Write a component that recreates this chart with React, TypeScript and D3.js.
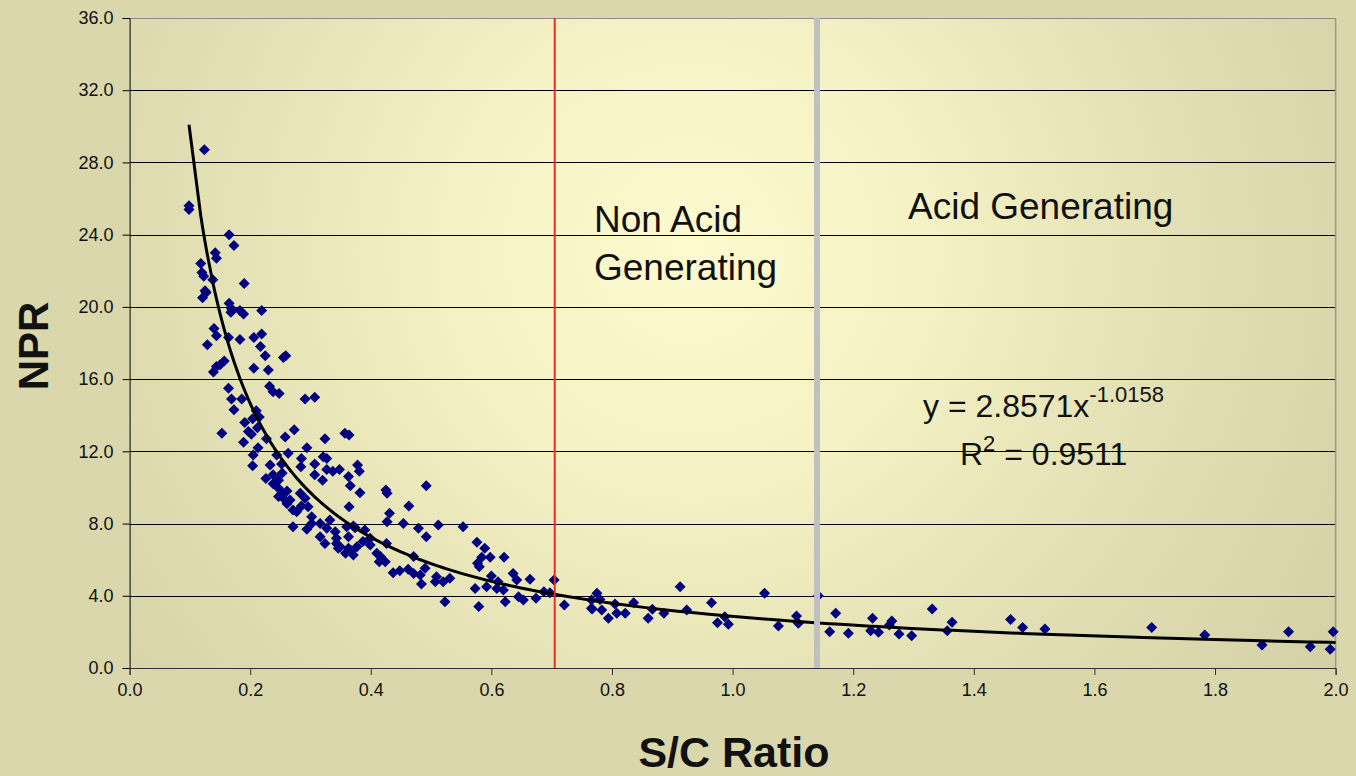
import React, { useEffect, useRef } from "react";
import * as d3 from "d3";

const width = 1356;
const height = 776;

// axis ticks
const xTicks = [0, 0.2, 0.4, 0.6, 0.8, 1.0, 1.2, 1.4, 1.6, 1.8, 2.0];
const yTicks = [0, 4, 8, 12, 16, 20, 24, 28, 32, 36];

// S/C ratio vs NPR
const samples: [number, number][] = [
  [0.124, 28.7], [0.0985, 25.4], [0.0985, 25.6], [0.165, 24.0], [0.173, 23.4],
  [0.142, 23.0], [0.144, 22.7], [0.118, 22.4], [0.120, 21.9], [0.123, 21.7],
  [0.138, 21.5], [0.190, 21.3], [0.125, 20.9], [0.127, 20.8], [0.121, 20.5],
  [0.165, 20.2], [0.169, 19.9], [0.168, 19.7], [0.183, 19.8], [0.189, 19.6],
  [0.219, 19.8], [0.140, 18.8], [0.144, 18.4], [0.129, 17.9], [0.164, 18.3],
  [0.183, 18.2], [0.206, 18.3], [0.219, 18.5], [0.217, 17.8], [0.225, 17.3],
  [0.255, 17.2], [0.259, 17.3], [0.139, 16.4], [0.144, 16.7], [0.150, 16.8],
  [0.157, 17.0], [0.206, 16.6], [0.230, 16.5], [0.164, 15.5], [0.232, 15.6],
  [0.238, 15.3], [0.248, 15.2], [0.291, 14.9], [0.307, 15.0], [0.169, 14.9],
  [0.186, 14.9], [0.173, 14.3], [0.210, 14.25], [0.191, 13.6], [0.204, 13.8],
  [0.215, 13.9], [0.153, 13.0], [0.197, 13.1], [0.202, 12.95], [0.212, 13.3],
  [0.258, 12.8], [0.273, 13.2], [0.324, 12.7], [0.189, 12.5], [0.294, 12.2],
  [0.227, 12.7], [0.205, 11.8], [0.213, 12.2], [0.244, 11.8], [0.263, 11.9],
  [0.285, 11.6], [0.321, 11.7], [0.357, 13.0], [0.364, 12.9], [0.204, 11.2],
  [0.233, 11.25], [0.252, 11.3], [0.284, 11.15], [0.307, 11.3], [0.327, 11.6],
  [0.307, 10.7], [0.320, 10.4], [0.327, 11.0], [0.337, 10.9], [0.348, 11.0],
  [0.378, 11.25], [0.381, 10.9], [0.363, 10.6], [0.366, 10.1], [0.382, 9.7],
  [0.425, 9.86], [0.427, 9.68], [0.492, 10.1], [0.226, 10.5], [0.238, 10.2],
  [0.247, 10.4], [0.247, 9.95], [0.252, 9.67], [0.261, 9.8], [0.247, 9.5],
  [0.255, 9.4], [0.266, 9.3], [0.283, 9.68], [0.291, 9.4], [0.296, 8.93],
  [0.285, 8.97], [0.271, 8.75], [0.277, 8.66], [0.302, 8.38], [0.271, 7.83],
  [0.294, 7.68], [0.302, 8.0], [0.316, 8.0], [0.332, 8.2], [0.327, 7.74],
  [0.341, 7.55], [0.343, 7.18], [0.324, 6.9], [0.358, 6.35], [0.363, 6.63],
  [0.371, 6.26], [0.363, 7.27], [0.371, 7.86], [0.390, 7.64], [0.387, 7.0],
  [0.399, 7.18], [0.410, 6.35], [0.414, 5.89], [0.424, 5.89], [0.426, 6.9],
  [0.427, 8.1], [0.431, 8.57], [0.454, 8.0], [0.463, 8.97], [0.479, 7.74],
  [0.492, 7.27], [0.512, 7.92], [0.553, 7.83], [0.576, 6.96], [0.577, 5.8],
  [0.437, 5.28], [0.448, 5.39], [0.462, 5.47], [0.471, 5.24], [0.482, 5.15],
  [0.490, 5.52], [0.484, 4.65], [0.509, 5.06], [0.520, 4.78], [0.531, 4.97],
  [0.523, 3.67], [0.573, 4.41], [0.579, 3.40], [0.349, 6.72], [0.399, 6.81],
  [0.416, 6.17], [0.316, 7.27], [0.364, 8.93], [0.360, 7.83], [0.374, 7.77],
  [0.343, 6.9], [0.377, 6.72], [0.471, 6.17], [0.238, 10.7], [0.253, 10.8],
  [0.346, 6.63], [0.368, 6.5], [0.261, 9.1], [0.589, 6.63], [0.584, 6.13],
  [0.580, 5.61], [0.598, 6.13], [0.621, 6.13], [0.507, 4.78], [0.592, 4.5],
  [0.600, 5.09], [0.611, 4.78], [0.609, 4.41], [0.620, 4.32], [0.636, 5.24],
  [0.642, 4.87], [0.623, 3.67], [0.645, 3.95], [0.653, 3.77], [0.664, 4.91],
  [0.674, 3.86], [0.687, 4.23], [0.697, 4.17], [0.704, 4.87], [0.721, 3.49],
  [0.766, 3.77], [0.775, 4.14], [0.766, 3.31], [0.780, 3.8], [0.767, 3.27],
  [0.783, 3.21], [0.794, 2.75], [0.805, 3.54], [0.808, 3.03], [0.822, 3.03],
  [0.836, 3.62], [0.860, 2.75], [0.867, 3.25], [0.886, 3.03], [0.913, 4.5],
  [0.924, 3.21], [0.965, 3.62], [0.975, 2.51], [0.987, 2.84], [0.993, 2.42],
  [1.053, 4.14], [1.076, 2.33], [1.106, 2.88], [1.109, 2.48], [1.142, 4.0],
  [1.161, 2.01], [1.171, 3.03], [1.192, 1.92], [1.229, 2.07], [1.232, 2.75],
  [1.242, 1.98], [1.260, 2.38], [1.264, 2.6], [1.276, 1.88], [1.297, 1.79],
  [1.331, 3.27], [1.356, 2.07], [1.364, 2.53], [1.461, 2.69], [1.481, 2.25],
  [1.518, 2.16], [1.695, 2.25], [1.783, 1.83], [1.878, 1.27], [1.922, 2.01],
  [1.958, 1.18], [1.991, 1.04], [1.996, 2.01],
];

// power trendline shown on the chart
const trendA = 2.8571;
const trendB = -1.0158;
const rSquared = 0.9511;

// zone boundaries (S/C ratio)
const nonAcidLimit = 0.705;
const acidLimit = 1.14;

const font = "'Liberation Sans', Arial, sans-serif";

export default function App() {
  const ref = useRef<SVGSVGElement>(null);

  useEffect(() => {
    document.body.style.margin = "0";
    const svg = d3.select(ref.current);
    svg.selectAll("*").remove();

    const x = d3.scaleLinear().domain([0, 2]).range([129.6, 1335.6]);
    const y = d3.scaleLinear().domain([0, 36]).range([668, 18]);

    const grad = svg.append("defs")
      .append("radialGradient")
      .attr("id", "plotBg")
      .attr("gradientUnits", "userSpaceOnUse")
      .attr("cx", 690).attr("cy", 250).attr("r", 760);
    const stops: [number, string][] = [[0, "#FCFACE"], [0.3, "#F5F3C5"], [0.7, "#DFDDB1"], [1, "#D3D1A5"]];
    grad.selectAll("stop").data(stops).join("stop")
      .attr("offset", d => d[0])
      .attr("stop-color", d => d[1]);

    svg.append("rect").attr("width", width).attr("height", height).attr("fill", "#D9D7AB");
    svg.append("rect")
      .attr("x", x(0)).attr("y", y(36))
      .attr("width", x(2) - x(0)).attr("height", y(0) - y(36))
      .attr("fill", "url(#plotBg)");

    // horizontal gridlines
    svg.append("g").selectAll("line")
      .data(yTicks.filter(d => d > 0))
      .join("line")
      .attr("x1", x(0)).attr("x2", x(2))
      .attr("y1", d => Math.round(y(d)) + 0.5).attr("y2", d => Math.round(y(d)) + 0.5)
      .attr("stroke", d => d === 36 ? "#8c8c86" : "#000")
      .attr("stroke-width", 1);

    // right border
    svg.append("line")
      .attr("x1", x(2)).attr("x2", x(2)).attr("y1", y(36)).attr("y2", y(0))
      .attr("stroke", "#999").attr("stroke-width", 1.5);

    // axes
    const yAxis = d3.axisLeft(y).tickValues(yTicks).tickSize(7).tickPadding(9)
      .tickFormat(d => d3.format(".1f")(d as number));
    svg.append("g")
      .attr("transform", `translate(${x(0)},0)`)
      .call(yAxis)
      .call(g => g.selectAll(".domain, .tick line").attr("stroke", "#000"))
      .call(g => g.selectAll("text").attr("font-family", font).attr("font-size", 18).attr("fill", "#111"));

    const xAxis = d3.axisBottom(x).tickValues(xTicks).tickSize(7).tickPadding(8)
      .tickFormat(d => d3.format(".1f")(d as number));
    svg.append("g")
      .attr("transform", `translate(0,${y(0)})`)
      .call(xAxis)
      .call(g => g.selectAll(".domain, .tick line").attr("stroke", "#333"))
      .call(g => g.selectAll("text").attr("font-family", font).attr("font-size", 18).attr("fill", "#111"));

    // points
    svg.append("g").selectAll("path")
      .data(samples)
      .join("path")
      .attr("d", "M0,-5.5L5.5,0L0,5.5L-5.5,0Z")
      .attr("transform", d => `translate(${x(d[0])},${y(d[1])})`)
      .attr("fill", "#000080");

    // trendline through the sample x positions
    const xs = Array.from(new Set(samples.map(d => d[0]))).sort((a, b) => a - b);
    xs.push(2.0);
    const line = d3.line<number>()
      .x(d => x(d))
      .y(d => y(trendA * Math.pow(d, trendB)));
    svg.append("path")
      .datum(xs)
      .attr("d", line)
      .attr("fill", "none")
      .attr("stroke", "#000")
      .attr("stroke-width", 3);

    // zone lines
    svg.append("line")
      .attr("x1", x(nonAcidLimit)).attr("x2", x(nonAcidLimit))
      .attr("y1", y(36)).attr("y2", y(0))
      .attr("stroke", "#F02A1E").attr("stroke-width", 2);
    svg.append("line")
      .attr("x1", x(acidLimit)).attr("x2", x(acidLimit))
      .attr("y1", y(36)).attr("y2", y(0))
      .attr("stroke", "#C0C0C0").attr("stroke-width", 6);

    // zone labels
    const labels = svg.append("g").attr("font-family", font).attr("font-size", 37).attr("fill", "#111");
    labels.append("text").attr("x", 594).attr("y", 232).text("Non Acid");
    labels.append("text").attr("x", 594).attr("y", 280).text("Generating");
    labels.append("text").attr("x", 908).attr("y", 219).text("Acid Generating");

    // trendline equation
    const eq = svg.append("g").attr("font-family", font).attr("font-size", 32).attr("fill", "#111");
    const t1 = eq.append("text").attr("x", 923).attr("y", 417);
    t1.append("tspan").text(`y = ${trendA}x`);
    t1.append("tspan").attr("font-size", 22).attr("dy", -15).text(`${trendB}`);
    const t2 = eq.append("text").attr("x", 960).attr("y", 465);
    t2.append("tspan").text("R");
    t2.append("tspan").attr("font-size", 22).attr("dy", -14).text("2");
    t2.append("tspan").attr("dy", 14).text(` = ${rSquared}`);

    // axis titles
    svg.append("text")
      .attr("transform", "translate(48,346) rotate(-90)")
      .attr("text-anchor", "middle")
      .attr("font-family", font).attr("font-weight", "bold").attr("font-size", 42)
      .attr("fill", "#111")
      .text("NPR");
    svg.append("text")
      .attr("x", 734).attr("y", 767)
      .attr("text-anchor", "middle")
      .attr("font-family", font).attr("font-weight", "bold").attr("font-size", 43)
      .attr("fill", "#111")
      .text("S/C Ratio");
  }, []);

  return (
    <svg ref={ref} width={width} height={height}
      style={{ position: "absolute", left: 0, top: 0, display: "block" }} />
  );
}
